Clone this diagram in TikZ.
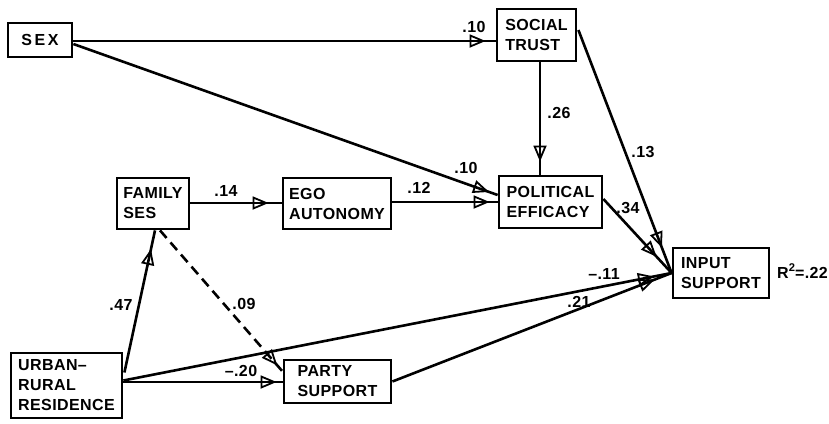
\documentclass[tikz,border=0pt]{standalone}
\usepackage{fontspec}
\newfontfamily\dfont{Liberation Sans}[LetterSpace=2.5]
\usetikzlibrary{arrows.meta,calc,decorations.markings}
\tikzset{
  box/.style={draw, line width=2.8pt, align=left, inner sep=0pt,
    font=\dfont\bfseries\fontsize{16}{20}\selectfont},
  conn/.style={line width=2.6pt},
  lbl/.style={font=\dfont\bfseries\fontsize{16}{18}\selectfont, inner sep=0pt},
  arw/.style={postaction={decorate}, decoration={markings,
    mark=at position -#1 with {\arrow[line width=1.8pt]{Triangle[open,length=16pt,width=13pt]}}}},
}
\begin{document}
\begin{tikzpicture}[x=1pt,y=-1pt]
\useasboundingbox (0,0) rectangle (829,423);
% nodes
\node[box, minimum width=64pt, minimum height=34pt] (sex) at (40,40) {S\,E\,X};
\node[box, minimum width=79pt, minimum height=52pt] (trust) at (536.5,35) {SOCIAL\\TRUST};
\node[box, minimum width=103pt, minimum height=52pt] (eff) at (550.5,202) {POLITICAL\\EFFICACY};
\node[box, minimum width=72pt, minimum height=51pt] (ses) at (153,203.5) {FAMILY\\SES};
\node[box, minimum width=108pt, minimum height=51pt] (ego) at (337,203.5) {EGO\\AUTONOMY};
\node[box, minimum width=111pt, minimum height=65pt] (urb) at (66.5,385.5) {URBAN–\\RURAL\\RESIDENCE};
\node[box, minimum width=107pt, minimum height=43pt] (party) at (337.5,381.5) {PARTY\\SUPPORT};
\node[box, minimum width=96pt, minimum height=50pt] (input) at (721,273) {INPUT\\SUPPORT};
\node[lbl, anchor=east] (rsq) at (828,271) {R\textsuperscript{2}\kern-0.5pt=.22};
% coordinates
\coordinate (s1) at ($(sex.east)+(0,1)$);
\coordinate (s2) at ($(sex.east)+(0,4)$);
\coordinate (e1) at ($(eff.west)+(0,-7)$);
\coordinate (t1) at ($(trust.south)+(3.5,0)$);
\coordinate (t2) at ($(trust.east)+(1,-5)$);
\coordinate (e2) at ($(eff.east)+(0,-3)$);
\coordinate (u1) at ($(urb.east)+(1,-13)$);
\coordinate (u2) at ($(urb.east)+(0,-3.5)$);
\coordinate (u3) at ($(urb.east)+(0,-5)$);
\coordinate (f1) at ($(ses.south)+(2,0)$);
\coordinate (f2) at ($(ses.south)+(7,0)$);
\coordinate (p1) at ($(party.west)+(0,-10)$);
\coordinate (sy) at ($(ses.east)+(0,-0.5)$);
\coordinate (gy) at ($(ego.east)+(0,-1.5)$);
% connectors
\draw[conn, arw=10pt] (s1) -- (s1 -| trust.west);
\draw[conn, arw=9pt] (s2) -- (e1);
\draw[conn, arw=13pt] (t1) -- (t1 |- eff.north);
\draw[conn, arw=27pt] (t2) -- (input.west);
\draw[conn, arw=22pt] (e2) -- (input.west);
\draw[conn, arw=13pt] (sy) -- (sy -| ego.west);
\draw[conn, arw=8pt] (gy) -- (gy -| eff.west);
\draw[conn, arw=19pt] (u1) -- (f1);
\draw[conn, dashed, dash pattern=on 10pt off 6pt, arw=8pt] (f2) -- (p1);
\draw[conn, arw=6pt] (u2) -- (u2 -| party.west);
\draw[conn, arw=18pt] (u3) -- (input.west);
\draw[conn, arw=18pt] (party.east) -- (input.west);
% labels
\node[lbl] (l1) at (474,27) {.10};
\node[lbl] (l2) at (466,168) {.10};
\node[lbl] (l3) at (559,113) {.26};
\node[lbl] (l4) at (643,152) {.13};
\node[lbl] (l5) at (226,191) {.14};
\node[lbl] (l6) at (419,188) {.12};
\node[lbl] (l7) at (628,208) {.34};
\node[lbl] (l8) at (121,305) {.47};
\node[lbl] (l9) at (244,304) {.09};
\node[lbl] (l10) at (241,371) {–.20};
\node[lbl] (l11) at (604,274) {–.11};
\node[lbl] (l12) at (579,302) {.21};
\end{tikzpicture}
\end{document}
